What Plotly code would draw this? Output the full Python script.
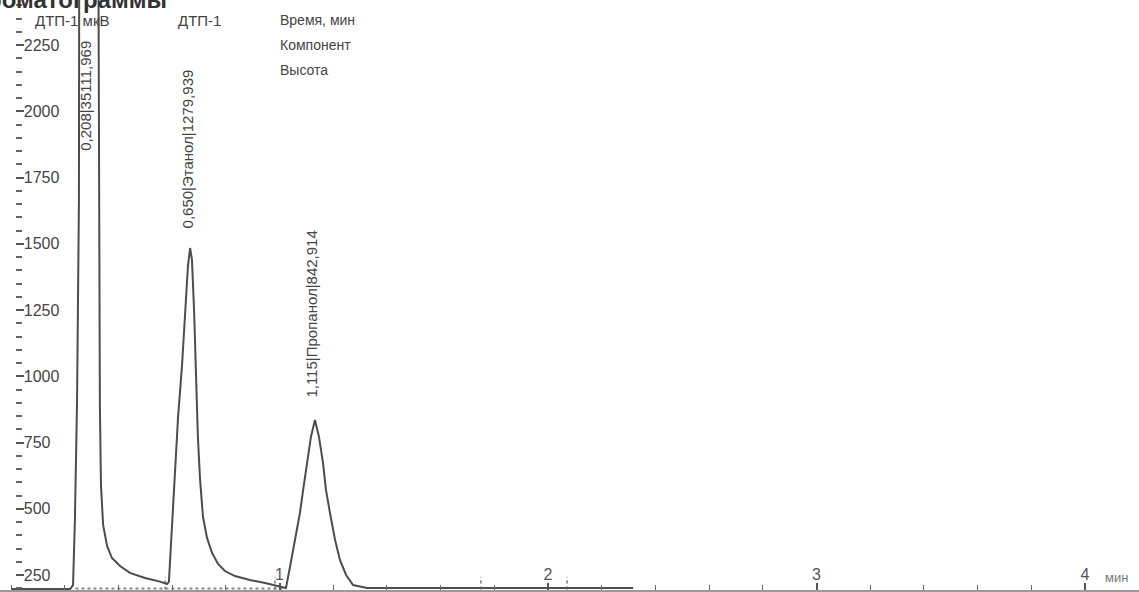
import plotly.graph_objects as go

# ---- data (time in minutes, signal in µV) ----
time_min = [0.000, 0.220, 0.231, 0.238, 0.246, 0.253, 0.290, 0.326, 0.331, 0.335,
            0.343, 0.358, 0.376, 0.406, 0.443, 0.499, 0.555, 0.581,
            0.588, 0.600, 0.611, 0.622, 0.637, 0.648, 0.659, 0.667, 0.674, 0.682,
            0.689, 0.696, 0.704, 0.715, 0.730, 0.749, 0.771, 0.797, 0.834, 0.890,
            0.946, 0.994, 1.013,
            1.024, 1.039, 1.058, 1.076, 1.088, 1.102, 1.117, 1.132, 1.147, 1.162,
            1.173, 1.188, 1.207, 1.225, 1.248, 1.274, 1.326, 2.317]
signal_uv = [197, 197, 212, 458, 910, 1665, 35112, 2400, 892, 590,
             439, 359, 314, 284, 258, 239, 225, 216,
             224, 439, 643, 843, 1043, 1243, 1416, 1484, 1439, 1243,
             993, 771, 612, 469, 390, 333, 292, 265, 246, 231,
             220, 208, 201,
             201, 280, 382, 484, 571, 673, 771, 835, 771, 673,
             571, 484, 382, 307, 250, 212, 201, 201]

peak_times = [0.279, 0.659, 1.121]
peak_labels = ["0,208|35111,969", "0,650|Этанол|1279,939", "1,115|Пропанол|842,914"]
peak_label_base = [1843, 1552, 910]

integration_marks = [0.574, 0.983, 1.750, 2.071]
integration_base = [0.24, 1.02]

x_ticks = [1, 2, 3, 4]
y_ticks = [250, 500, 750, 1000, 1250, 1500, 1750, 2000, 2250]

W, H = 1139, 592
PLOT_H = 590


def px(x):
    return x / W


def py(y):
    return 1 - y / PLOT_H


FONT = "Liberation Sans, Arial, sans-serif"

fig = go.Figure()

# integration baseline (dotted)
fig.add_trace(go.Scatter(x=integration_base, y=[199, 199], mode="lines",
                         line=dict(color="#888", width=2, dash="dot"),
                         hoverinfo="skip", showlegend=False))
# integration markers (dotted vertical)
mx, my = [], []
for t in integration_marks:
    mx += [t, t, None]
    my += [195, 242, None]
fig.add_trace(go.Scatter(x=mx, y=my, mode="lines",
                         line=dict(color="#777", width=1.5, dash="dot"),
                         hoverinfo="skip", showlegend=False))

# chromatogram signal
fig.add_trace(go.Scatter(x=time_min, y=signal_uv, mode="lines",
                         line=dict(color="#4d4d4d", width=2),
                         showlegend=False))

annotations = []
for t, lab, yb in zip(peak_times, peak_labels, peak_label_base):
    annotations.append(dict(x=t, y=yb, xref="x", yref="y", text=lab,
                            textangle=-90, xanchor="center", yanchor="bottom",
                            showarrow=False, font=dict(family=FONT, size=15, color="#444")))


def txt(text, x, y, size=14, color="#444"):
    return dict(x=px(x), y=py(y), xref="paper", yref="paper", text=text,
                xanchor="left", yanchor="middle", showarrow=False,
                font=dict(family=FONT, size=size, color=color))


annotations += [
    dict(x=px(-31), y=py(15), xref="paper", yref="paper", text="<b>Хроматограммы</b>",
         xanchor="left", yanchor="bottom", showarrow=False,
         font=dict(family=FONT, size=24, color="#333")),
    txt("ДТП-1 мкВ", 33, 20, size=15),
    txt("ДТП-1", 176, 20, size=15),
    txt("Время, мин", 278, 20, size=14),
    txt("Компонент", 278, 45, size=14),
    txt("Высота", 278, 70, size=14),
    txt("мин", 1103, 577, size=13, color="#777"),
]

fig.update_layout(
    width=W, height=H,
    margin=dict(l=0, r=0, t=0, b=H - PLOT_H),
    paper_bgcolor="white", plot_bgcolor="white",
    annotations=annotations,
    xaxis=dict(range=[-0.041, 4.201], showgrid=False, zeroline=False,
               showline=True, linecolor="#9a9a9a", linewidth=1.5,
               tickmode="array", tickvals=x_ticks, ticks="inside", ticklen=7,
               tickcolor="#555", tickwidth=1.5, ticklabelposition="inside",
               ticklabeloverflow="allow",
               tickfont=dict(family=FONT, size=16, color="#555"),
               minor=dict(tickmode="linear", tick0=0, dtick=0.2, ticks="inside",
                          ticklen=5, tickcolor="#666", tickwidth=1.2)),
    yaxis=dict(range=[193.4, 2420], showgrid=False, zeroline=False, showline=False,
               anchor="free", position=px(15),
               tickmode="array", tickvals=y_ticks, ticks="inside", ticklen=8,
               tickcolor="#555", tickwidth=1.8, ticklabelposition="inside",
               ticklabeloverflow="allow",
               tickfont=dict(family=FONT, size=16, color="#444"),
               minor=dict(tickmode="linear", tick0=0, dtick=50, ticks="inside",
                          ticklen=6, tickcolor="#666", tickwidth=1.8)),
)

fig.write_html("out.html", config={"displayModeBar": False},
               post_script="document.body.style.margin='0';document.body.style.overflow='hidden';")
